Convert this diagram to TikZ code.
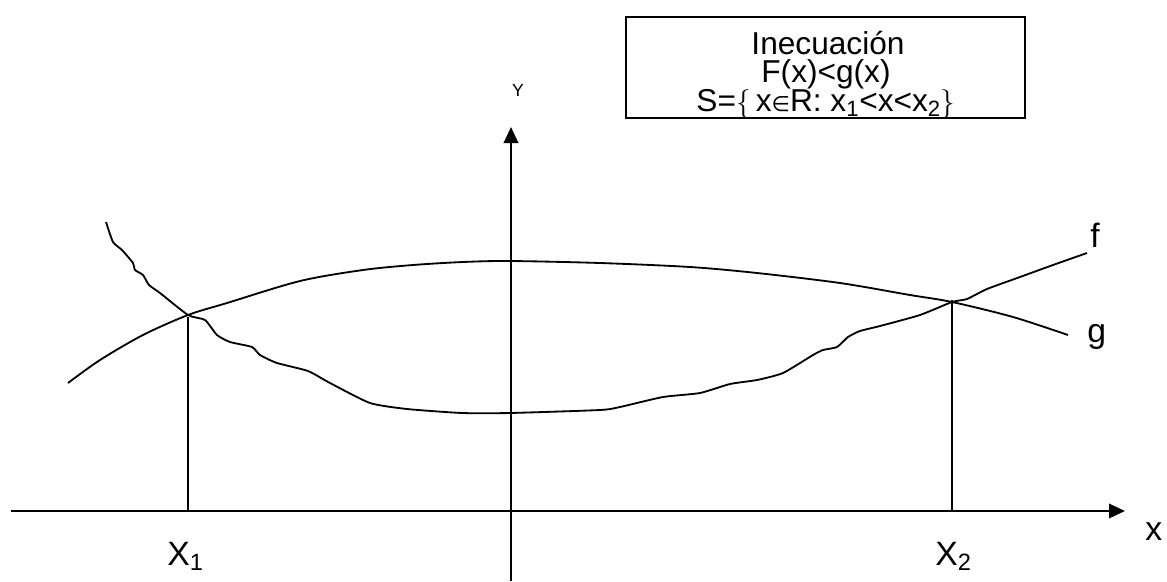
\documentclass[tikz,border=0pt]{standalone}
\usepackage{fontspec}
\setmainfont{Liberation Sans}
\newfontfamily\simbolos{DejaVu Sans}
\usetikzlibrary{arrows.meta}

\begin{document}
\begin{tikzpicture}[x=0.025cm, y=-0.025cm, >={Triangle[length=0.4cm,width=0.36cm]},
    eje/.style={line width=1.6pt},
    curva/.style={line width=1.3pt, line join=round},
    guia/.style={line width=1pt},
    renglon/.style={font=\fontsize{22.5}{24}\selectfont, inner sep=0pt, anchor=base},
    etiqueta/.style={font=\fontsize{24}{26}\selectfont, inner sep=0pt}]
    \useasboundingbox (0,0) rectangle (1167,581);

    % Recuadro
    \draw[line width=0.9pt] (626,17) rectangle (1025,118);
    \node[renglon] (titulo) at (828,54) {Inecuación};
    \node[renglon] (desig) at (826,82) {F(x)<g(x)};
    \node[renglon] (sol) at (826,111)
        {S=$\{$\,x{\simbolos\fontsize{15}{15}\selectfont ∈}R: x\textsubscript{1}<x<x\textsubscript{2}$\}$};

    % Ejes
    \coordinate (xizq) at (11,511);
    \coordinate (xder) at (1125,511);
    \coordinate (yinf) at (511,581);
    \coordinate (ysup) at (511,127);
    \draw[eje, ->] (xizq) -- (xder);
    \draw[eje, ->] (yinf) -- (ysup);
    \node[etiqueta, anchor=base west] (lx) at (1145,540) {x};
    \node[inner sep=0pt, font=\fontsize{12.5}{14}\selectfont] (ly) at (518,90) {Y};

    % Curva g
    \draw[curva] plot[smooth, tension=0.5] coordinates {(68,383) (100,360) (143,335) (188,315)
        (227,303) (300,281) (363,270) (413,265) (463,262) (510,261) (600,263) (690,267)
        (757,273) (840,283) (910,295) (952,302) (1013,317) (1068,335)};

    % Curva f
    \draw[curva] plot[smooth, tension=0.35] coordinates {(106,222) (113,242) (122,250) (133,263)
        (135,270) (143,275) (149,285) (160,293) (188,315) (205,320) (217,335) (230,342)
        (252,347) (260,355) (277,363) (308,371) (330,383) (370,403) (407,409) (462,413)
        (510,413) (600,410) (620,407) (663,397) (700,393) (730,384) (757,380) (783,373)
        (813,355) (823,350) (837,347) (848,337) (860,331) (880,326) (920,315) (952,302)
        (967,299) (987,289) (1020,277) (1053,265) (1087,253)};
    \node[etiqueta, anchor=base west] (lf) at (1090,247) {f};
    \node[etiqueta, anchor=base west] (lg) at (1087,342) {g};

    % Puntos de corte
    \coordinate (p1) at (188,317);
    \coordinate (p2) at (952,300);
    \draw[guia] (p1) -- (p1 |- xizq);
    \draw[guia] (p2) -- (p2 |- xizq);
    \node[etiqueta, anchor=base west] (lx1) at (167,565) {X\textsubscript{1}};
    \node[etiqueta, anchor=base west] (lx2) at (935,565) {X\textsubscript{2}};
\end{tikzpicture}
\end{document}
